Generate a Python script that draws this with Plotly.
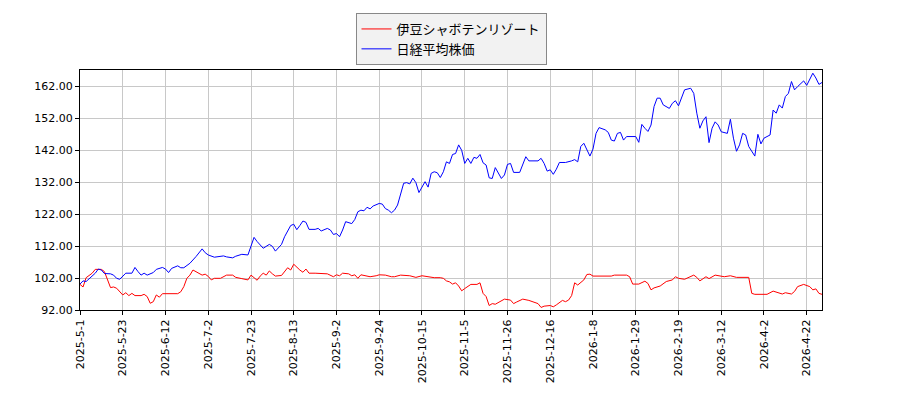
import plotly.graph_objs as go

# trading-day index (0 = 2025-5-1) and values
tick_days = [0, 14, 28, 42, 56, 70, 84, 98, 112, 126, 140, 154, 168, 182, 196, 210, 224, 238]
tick_labels = ['2025-5-1', '2025-5-23', '2025-6-12', '2025-7-2', '2025-7-23', '2025-8-13',
               '2025-9-2', '2025-9-24', '2025-10-15', '2025-11-5', '2025-11-26', '2025-12-16',
               '2026-1-8', '2026-1-29', '2026-2-19', '2026-3-12', '2026-4-2', '2026-4-22']

izu_day = [0, 1, 2, 4, 5, 7, 8, 9, 10, 11, 12, 14, 15, 16, 17, 18, 20, 21, 22, 23,
           24, 25, 26, 27, 32, 33, 34, 35, 36, 37, 38, 40, 41, 42, 43, 44, 46, 48, 50, 51,
           53, 55, 56, 57, 58, 59, 60, 61, 62, 63, 64, 66, 67, 68, 69, 70, 72, 73, 74, 75,
           77, 80, 81, 83, 84, 85, 86, 88, 89, 90, 91, 92, 94, 95, 97, 98, 100, 102, 103, 105,
           108, 110, 112, 114, 116, 118, 119, 120, 121, 122, 123, 124, 125, 126, 128, 130, 131, 132, 133, 134,
           135, 136, 138, 139, 141, 142, 143, 145, 147, 148, 150, 151, 152, 154, 155, 156, 158, 159, 160, 161,
           162, 163, 165, 166, 167, 168, 174, 175, 179, 180, 181, 183, 184, 185, 186, 187, 188, 190, 192, 193,
           194, 195, 196, 198, 200, 201, 202, 203, 205, 206, 208, 209, 211, 213, 215, 219, 220, 221, 225, 227,
           228, 230, 231, 233, 234, 235, 237, 239, 240, 241, 242, 243]
izu_val = [100.0, 99.2, 102.1, 103.5, 104.7, 104.7, 104.0, 101.4, 99.0, 99.2, 98.8, 96.7, 97.4, 96.5, 97.2, 96.5, 96.5, 96.9, 96.2, 94.1,
           94.6, 96.7, 96.0, 97.1, 97.1, 97.7, 99.3, 101.9, 102.9, 104.5, 104.0, 102.9, 103.2, 102.5, 101.4, 101.9, 101.9, 102.9, 102.9, 102.2,
           101.8, 101.4, 102.9, 102.2, 101.3, 102.6, 103.5, 102.9, 104.2, 103.3, 102.6, 102.8, 104.0, 105.2, 104.5, 106.3, 104.5, 103.8, 104.8, 103.5,
           103.5, 103.5, 103.3, 102.4, 103.0, 102.7, 103.5, 103.3, 102.7, 103.0, 101.9, 103.0, 102.7, 102.4, 102.7, 103.0, 102.9, 102.4, 102.4, 102.9,
           102.7, 102.2, 102.7, 102.4, 102.1, 102.1, 101.9, 101.1, 100.8, 100.1, 100.5, 99.5, 98.0, 98.7, 100.0, 100.0, 100.5, 97.2, 96.2, 93.4,
           94.0, 93.8, 94.8, 95.4, 95.1, 94.0, 94.5, 95.4, 95.0, 94.6, 94.0, 92.8, 93.2, 93.4, 93.0, 93.6, 95.0, 94.6, 95.1, 96.5,
           100.5, 99.8, 101.4, 103.1, 103.2, 102.6, 102.6, 102.9, 102.9, 102.4, 100.1, 100.1, 100.6, 101.0, 100.3, 98.3, 98.9, 99.5, 100.9, 101.1,
           101.4, 102.4, 101.9, 101.6, 102.4, 102.9, 102.2, 101.1, 102.4, 101.8, 102.9, 102.7, 102.4, 102.7, 102.2, 102.2, 97.2, 96.9, 96.9, 97.9,
           97.6, 97.0, 97.4, 97.0, 97.8, 99.3, 100.0, 99.3, 98.3, 98.6, 97.2, 96.9]

nikkei_day = [0, 1, 2, 4, 5, 6, 7, 8, 10, 11, 12, 13, 14, 15, 17, 18, 19, 20, 21, 22,
              24, 25, 27, 28, 29, 30, 32, 33, 34, 36, 38, 40, 41, 42, 44, 45, 47, 48, 50, 51,
              53, 55, 56, 57, 58, 59, 60, 62, 63, 64, 65, 66, 67, 69, 70, 71, 72, 73, 74, 75,
              77, 78, 79, 81, 82, 83, 84, 85, 86, 87, 89, 90, 91, 92, 93, 94, 95, 96, 98, 99,
              100, 101, 102, 103, 104, 105, 106, 107, 108, 109, 110, 111, 112, 113, 114, 115, 116, 117, 118, 119,
              120, 121, 122, 123, 124, 125, 126, 127, 128, 129, 130, 131, 132, 133, 134, 135, 136, 137, 138, 139,
              140, 141, 142, 144, 145, 146, 147, 149, 150, 151, 152, 153, 154, 155, 156, 157, 159, 161, 162, 163,
              164, 165, 166, 167, 168, 169, 170, 172, 173, 174, 175, 176, 177, 178, 179, 182, 183, 184, 185, 186,
              187, 188, 189, 190, 191, 193, 194, 195, 196, 197, 198, 200, 201, 202, 203, 204, 205, 206, 207, 208,
              209, 210, 212, 213, 214, 215, 216, 217, 218, 219, 220, 221, 222, 223, 224, 226, 227, 228, 229, 230,
              231, 232, 233, 234, 235, 237, 238, 240, 241, 242, 243]
nikkei_val = [100.1, 101.1, 100.9, 102.7, 103.5, 104.8, 104.5, 103.4, 103.3, 102.9, 101.9, 101.6, 102.4, 103.5, 103.5, 105.3, 104.0, 102.9, 103.5, 102.9,
              103.7, 104.7, 105.3, 104.8, 103.7, 105.0, 105.8, 105.2, 105.2, 106.6, 108.7, 111.1, 109.9, 109.2, 108.5, 108.6, 108.9, 108.6, 108.3, 108.8,
              109.4, 109.2, 112.3, 114.7, 113.4, 112.3, 111.3, 112.5, 111.9, 110.4, 111.4, 112.5, 114.9, 118.4, 118.8, 117.1, 118.4, 119.8, 119.4, 117.2,
              117.2, 117.5, 116.7, 117.5, 117.0, 115.6, 115.9, 114.9, 117.0, 119.6, 119.0, 120.3, 122.7, 123.2, 123.0, 124.1, 123.6, 124.5, 125.3, 125.1,
              123.7, 123.2, 122.4, 123.2, 124.8, 127.9, 131.6, 131.8, 131.4, 133.2, 131.8, 128.7, 130.6, 132.1, 130.4, 134.7, 135.2, 134.9, 133.4, 135.2,
              138.3, 137.8, 140.6, 140.9, 143.6, 141.9, 137.8, 139.4, 137.8, 139.7, 139.4, 140.6, 138.0, 137.3, 133.3, 133.1, 136.5, 134.8, 133.1, 134.2,
              137.5, 137.8, 135.0, 135.0, 137.8, 139.9, 138.6, 138.7, 138.6, 139.4, 137.8, 135.4, 135.8, 134.4, 136.0, 138.1, 138.1, 138.6, 139.0, 138.3,
              143.1, 144.1, 142.3, 140.1, 142.3, 147.2, 149.0, 148.3, 147.5, 145.1, 144.8, 147.2, 147.5, 145.1, 146.2, 146.2, 144.4, 150.0, 148.8, 147.8,
              149.8, 155.6, 158.2, 158.2, 156.1, 155.0, 156.6, 157.4, 155.8, 158.2, 160.8, 161.3, 159.7, 153.5, 148.8, 151.1, 152.4, 144.3, 148.8, 150.8,
              149.8, 147.7, 147.2, 151.6, 145.7, 141.6, 143.6, 147.2, 146.7, 143.1, 141.4, 140.1, 146.9, 143.9, 145.7, 146.7, 154.5, 153.5, 156.1, 155.1,
              158.7, 159.7, 163.4, 160.8, 161.8, 163.6, 162.2, 166.0, 164.5, 162.5, 163.1]

y_ticks = [92, 102, 112, 122, 132, 142, 152, 162]

font = 'DejaVu Sans, Noto Sans CJK JP, sans-serif'

fig = go.Figure()
fig.add_trace(go.Scatter(
    x=izu_day, y=izu_val, mode='lines', name='伊豆シャボテンリゾート',
    line=dict(color='#ff0000', width=1)
))
fig.add_trace(go.Scatter(
    x=nikkei_day, y=nikkei_val, mode='lines', name='日経平均株価',
    line=dict(color='#0000ff', width=1)
))

axis_common = dict(
    showline=True, linecolor='black', linewidth=1, mirror=True,
    ticks='outside', ticklen=4, tickcolor='black',
    showgrid=True, gridcolor='#c8c8c8', gridwidth=1,
    zeroline=False, tickfont=dict(family=font, size=11, color='black')
)

# page body adds an 8px offset, so the figure is sized a little smaller
fig.update_layout(
    width=892, height=392,
    margin=dict(l=72, r=78, t=62, b=90, autoexpand=False),
    paper_bgcolor='white', plot_bgcolor='white',
    font=dict(family=font, color='black'),
    xaxis=dict(range=[0, 243], tickvals=tick_days, ticktext=tick_labels,
               tickangle=-90, **axis_common),
    yaxis=dict(range=[92, 167], tickvals=y_ticks, tickformat='.2f', **axis_common),
    legend=dict(
        x=0.5, xanchor='center', y=1.2375, yanchor='top',
        bgcolor='#f2f2f2', bordercolor='#888888', borderwidth=1,
        font=dict(family=font, size=13), itemwidth=30, tracegroupgap=0
    ),
    showlegend=True
)

fig.write_html('out.html')
